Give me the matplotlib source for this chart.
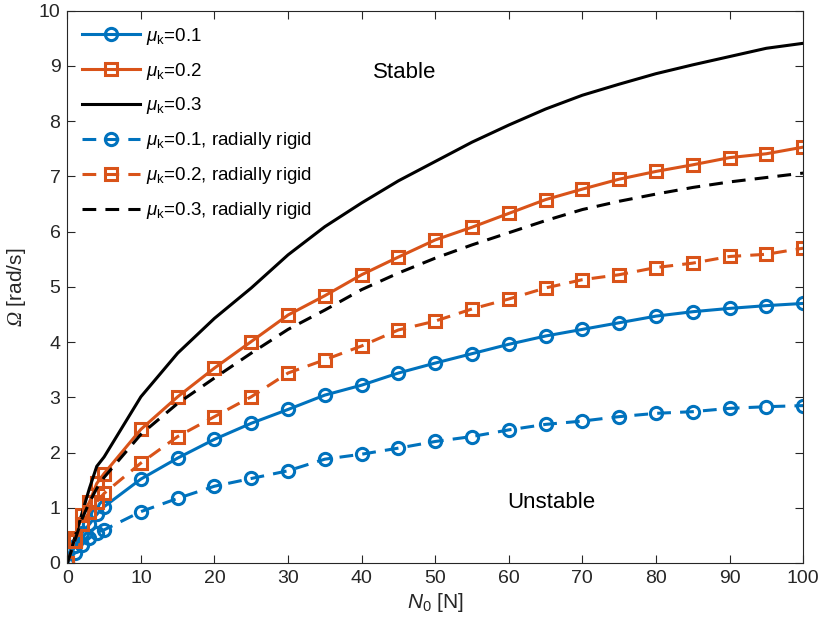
import matplotlib
matplotlib.use("Agg")
import matplotlib.pyplot as plt

plt.rcParams['font.family'] = ['Liberation Sans', 'DejaVu Sans']
plt.rcParams['mathtext.fontset'] = 'custom'
plt.rcParams['mathtext.rm'] = 'Liberation Serif:italic'
plt.rcParams['mathtext.sf'] = 'Liberation Sans'
plt.rcParams['mathtext.it'] = 'Liberation Sans:italic'

N0 = [0, 1, 2, 3, 4, 5, 10, 15, 20, 25, 30, 35, 40, 45, 50, 55, 60, 65, 70, 75, 80, 85, 90, 95, 100]

mu01 = [0, 0.30, 0.54, 0.70, 0.88, 1.02, 1.52, 1.90, 2.24, 2.53, 2.78, 3.04, 3.22, 3.44, 3.62, 3.79,
        3.96, 4.11, 4.23, 4.35, 4.47, 4.55, 4.61, 4.66, 4.70]
mu02 = [0, 0.45, 0.87, 1.10, 1.44, 1.62, 2.42, 3.01, 3.53, 4.01, 4.49, 4.84, 5.22, 5.54, 5.85, 6.08,
        6.33, 6.58, 6.77, 6.95, 7.09, 7.21, 7.34, 7.41, 7.53]
mu03 = [0, 0.45, 0.90, 1.35, 1.75, 1.92, 3.01, 3.80, 4.43, 4.98, 5.58, 6.09, 6.52, 6.92, 7.27, 7.62,
        7.93, 8.22, 8.47, 8.67, 8.86, 9.02, 9.17, 9.32, 9.41]
mu01_rigid = [0, 0.18, 0.33, 0.45, 0.55, 0.60, 0.93, 1.17, 1.39, 1.53, 1.67, 1.88, 1.97, 2.08, 2.20,
              2.29, 2.41, 2.51, 2.57, 2.65, 2.71, 2.74, 2.80, 2.83, 2.85]
mu02_rigid = [0, 0.40, 0.70, 0.93, 1.11, 1.26, 1.81, 2.29, 2.65, 3.01, 3.44, 3.68, 3.93, 4.22, 4.38,
              4.60, 4.78, 4.98, 5.13, 5.22, 5.35, 5.43, 5.55, 5.59, 5.70]
mu03_rigid = [0, 0.40, 0.80, 1.10, 1.35, 1.55, 2.33, 2.89, 3.35, 3.80, 4.23, 4.58, 4.95, 5.25, 5.52,
              5.76, 5.98, 6.20, 6.40, 6.55, 6.68, 6.80, 6.90, 6.98, 7.06]

labels = [r'$\mu_{\mathsf{k}}$=0.1', r'$\mu_{\mathsf{k}}$=0.2', r'$\mu_{\mathsf{k}}$=0.3',
          r'$\mu_{\mathsf{k}}$=0.1, radially rigid', r'$\mu_{\mathsf{k}}$=0.2, radially rigid',
          r'$\mu_{\mathsf{k}}$=0.3, radially rigid']

blue = '#0072BD'
orange = '#D95319'

fig = plt.figure(figsize=(8.22, 6.35), dpi=100)
ax = fig.add_axes([0.0819, 0.1134, 0.8951, 0.8697])

lw = 2.2
ms = 8.8
dash = (4.5, 3.0)
ax.plot(N0, mu01, '-', color=blue, lw=lw, marker='o', ms=ms, mfc='none', mew=lw, label=labels[0])
ax.plot(N0, mu02, '-', color=orange, lw=lw, marker='s', ms=ms, mfc='none', mew=lw, label=labels[1])
ax.plot(N0, mu03, '-', color='black', lw=lw, label=labels[2])
ax.plot(N0, mu01_rigid, '--', dashes=dash, color=blue, lw=lw, marker='o', ms=ms, mfc='none', mew=lw, label=labels[3])
ax.plot(N0, mu02_rigid, '--', dashes=dash, color=orange, lw=lw, marker='s', ms=ms, mfc='none', mew=lw, label=labels[4])
ax.plot(N0, mu03_rigid, '--', dashes=dash, color='black', lw=lw, label=labels[5])

ax.set_xlim(0, 100)
ax.set_ylim(0, 10)
ax.set_xticks(range(0, 101, 10))
ax.set_yticks(range(0, 11, 1))

axcol = '#262626'
for s in ax.spines.values():
    s.set_color(axcol)
    s.set_linewidth(0.8)
ax.tick_params(direction='in', length=6, width=0.8, colors=axcol, labelsize=14,
               top=True, right=True, labelcolor='#262626', pad=5)

ax.set_xlabel(r'$N_{\mathsf{0}}$ [N]', fontsize=15, color='#262626', labelpad=3)
ax.set_ylabel(r'$\Omega$ [rad/s]', fontsize=15, color='#262626', labelpad=8)

ax.text(45.9, 8.88, 'Stable', fontsize=16, ha='center', va='center')
ax.text(65.8, 1.09, 'Unstable', fontsize=16, ha='center', va='center')

leg = ax.legend(loc='upper left', frameon=False, fontsize=13.5, handlelength=3.1,
                handletextpad=0.3, labelspacing=0.74, borderaxespad=0.4,
                bbox_to_anchor=(0.0, 1.0))

fig.savefig('out.png', dpi=100)
